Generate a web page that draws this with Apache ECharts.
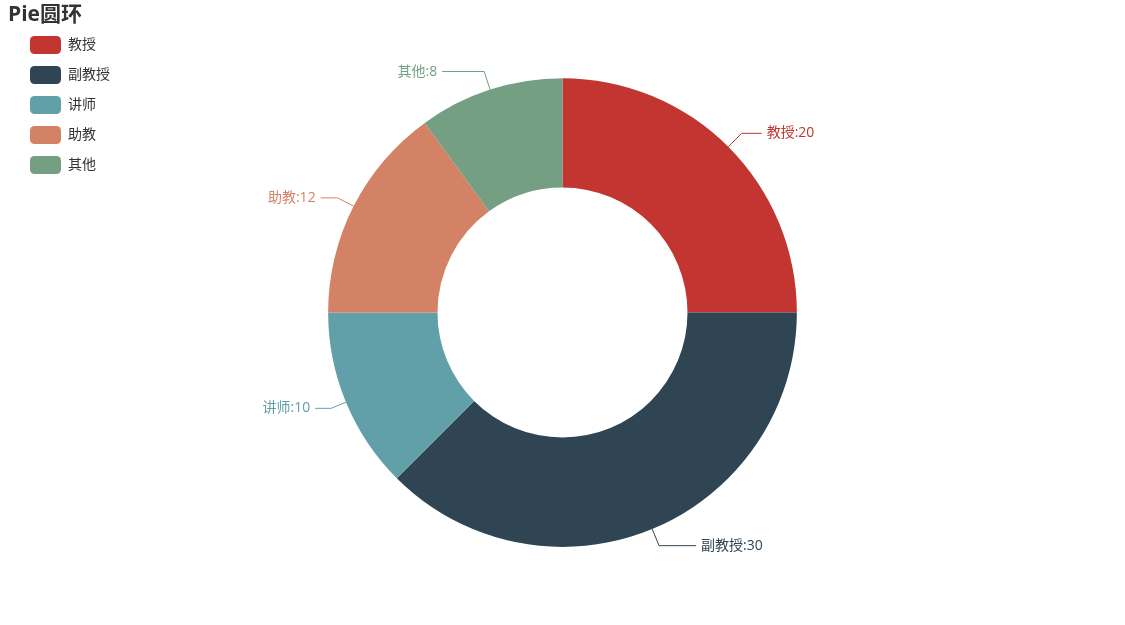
<!DOCTYPE html>
<html><head><meta charset="utf-8">
<script src="https://cdn.jsdelivr.net/npm/echarts@6/dist/echarts.min.js"></script>
<style>html,body{margin:0;padding:0;background:#fff}#c{width:1125px;height:625px}</style>
</head><body><div id="c"></div>
<script>
const categories = ['教授', '副教授', '讲师', '助教', '其他'];
const values = [20, 30, 10, 12, 8];
const colors = ['#c23531', '#2f4554', '#61a0a8', '#d48265', '#749f83'];
const lineLen = [19, 18, 16, 18, 19];
const lineLen2 = [20, 37, 16, 17, 42];
const chart = echarts.init(document.getElementById('c'));
const ff = '"Microsoft YaHei", "Open Sans", "Noto Sans CJK SC", sans-serif';
chart.setOption({
  animation: false,
  color: colors,
  textStyle: { fontFamily: ff },
  title: { text: 'Pie圆环', left: 3, top: 0, textStyle: { fontSize: 21, fontWeight: 'bold', color: '#333', fontFamily: ff } },
  legend: {
    orient: 'vertical', left: 25, top: 31,
    itemWidth: 31, itemHeight: 18, itemGap: 12,
    textStyle: { fontSize: 14, color: '#333', padding: [0, 0, 0, 2] },
    data: categories
  },
  series: [{
    type: 'pie',
    center: ['50%', '50%'],
    radius: ['40%', '75%'],
    label: { formatter: '{b}:{c}', fontSize: 14 },
    labelLine: { length: 15, length2: 20 },
    data: categories.map((n, i) => ({
      name: n, value: values[i],
      label: { color: colors[i] },
      labelLine: { length: lineLen[i], length2: lineLen2[i] }
    }))
  }]
});
</script></body></html>
